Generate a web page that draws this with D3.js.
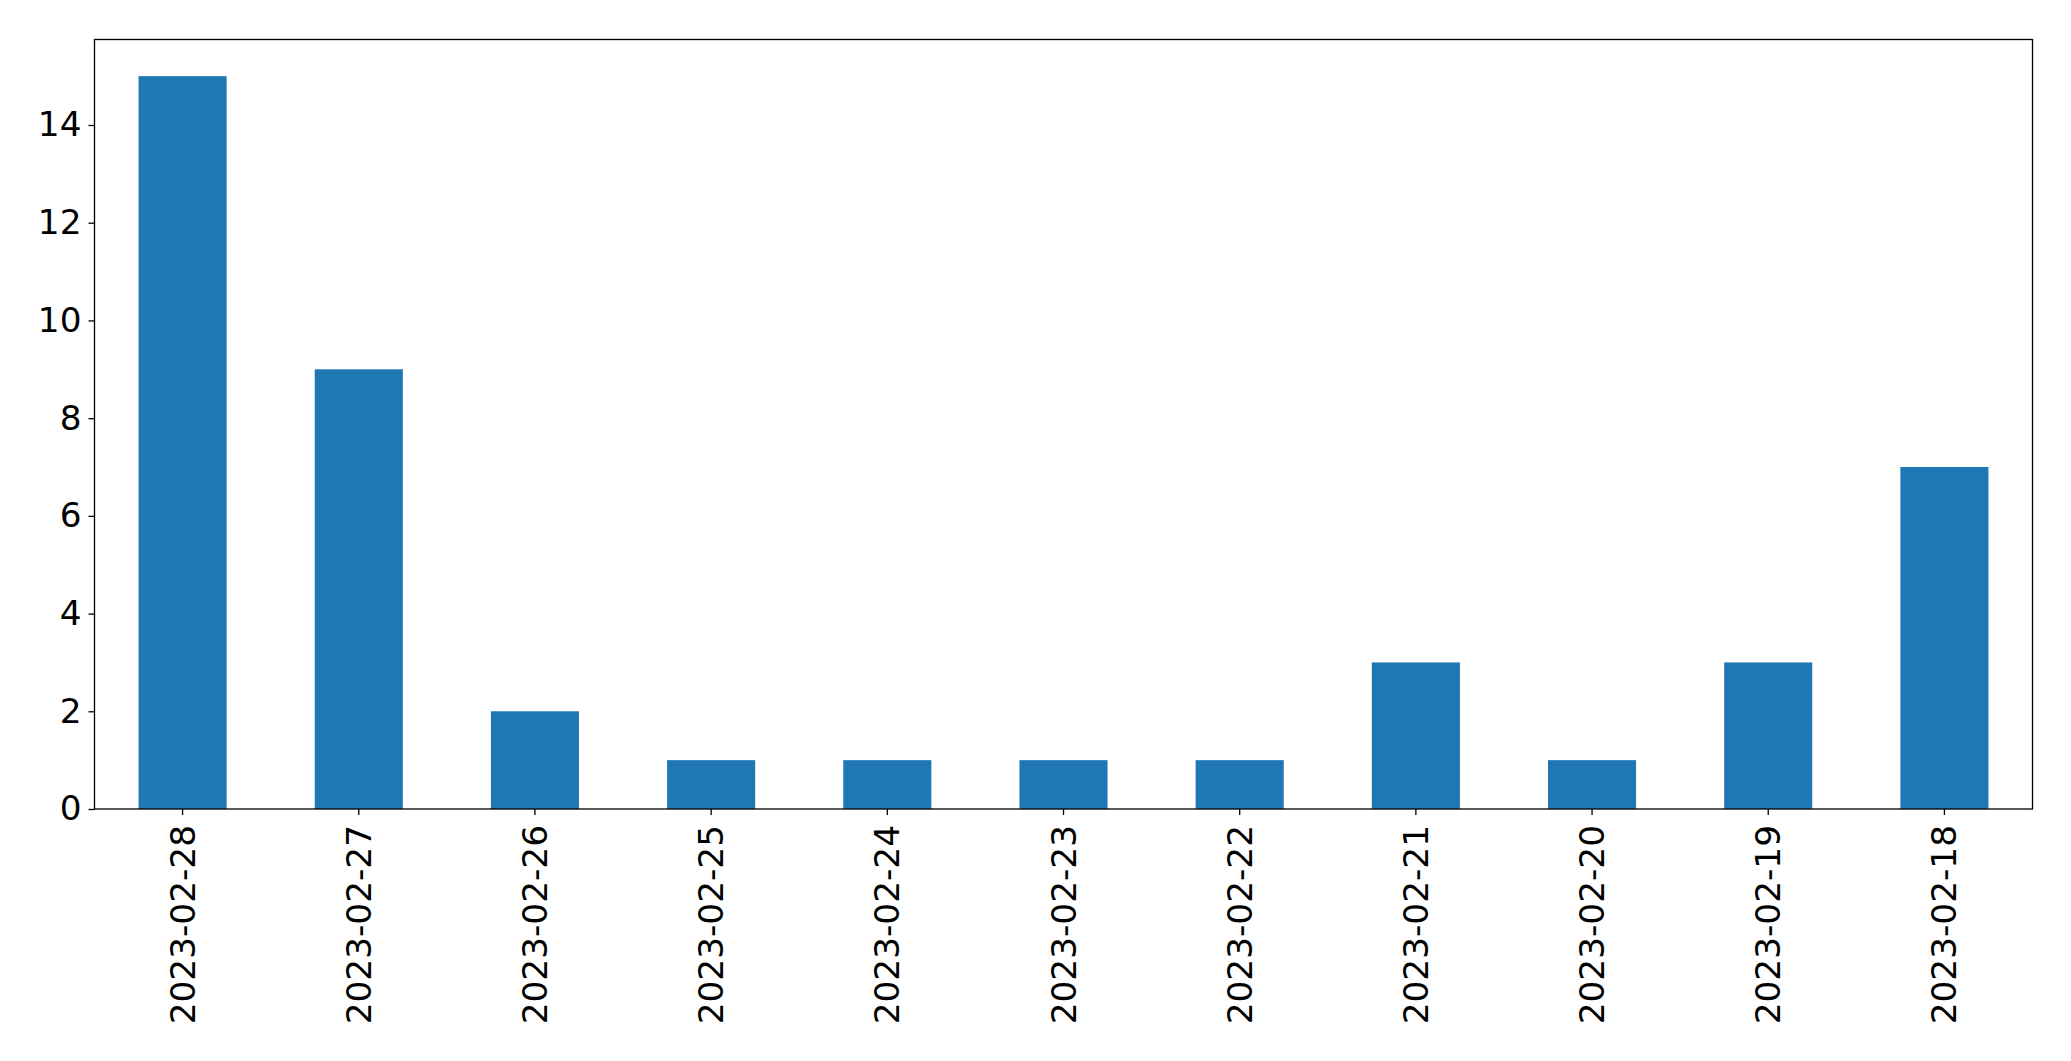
<!DOCTYPE html>
<html><head><meta charset="utf-8">
<script src="https://cdn.jsdelivr.net/npm/d3@7"></script>
<style>body{margin:0;background:#fff}svg{display:block}text{font-family:"DejaVu Sans",sans-serif}</style>
</head><body><svg id="c" width="2071" height="1061"></svg>
<script>
const categories = ["2023-02-28","2023-02-27","2023-02-26","2023-02-25","2023-02-24","2023-02-23","2023-02-22","2023-02-21","2023-02-20","2023-02-19","2023-02-18"];
const values = [15, 9, 2, 1, 1, 1, 1, 3, 1, 3, 7];
const yTicks = [0, 2, 4, 6, 8, 10, 12, 14];

const W = 2071, H = 1061;
const m = {left: 94.5, right: 2032.5, top: 39.5, bottom: 809};
const svg = d3.select("#c");
const x = d3.scaleBand().domain(categories).range([m.left, m.right]).paddingInner(0.5).paddingOuter(0.25);
const y = d3.scaleLinear().domain([0, 15 * 1.05]).range([m.bottom, m.top]);

svg.append("g").selectAll("rect").data(values).join("rect")
  .attr("x", (d, i) => x(categories[i]))
  .attr("width", x.bandwidth())
  .attr("y", d => y(d))
  .attr("height", d => y(0) - y(d))
  .attr("fill", "#1f77b4");

const fs = 34.3;
const yAxis = svg.append("g").attr("transform", `translate(${m.left},0)`)
  .call(d3.axisLeft(y).tickValues(yTicks).tickSize(6).tickPadding(7));
yAxis.select(".domain").remove();
yAxis.selectAll("text").attr("font-size", fs).attr("font-family", "DejaVu Sans").attr("fill", "#000");
yAxis.selectAll("line").attr("stroke", "#000").attr("stroke-width", 1.3);

const xAxis = svg.append("g").attr("transform", `translate(0,${m.bottom})`)
  .call(d3.axisBottom(x).tickSize(6).tickPadding(0));
xAxis.select(".domain").remove();
xAxis.selectAll("line").attr("stroke", "#000").attr("stroke-width", 1.3);
xAxis.selectAll("text")
  .attr("font-size", fs).attr("font-family", "DejaVu Sans").attr("fill", "#000")
  .attr("transform", "translate(0,16) rotate(-90)")
  .attr("x", 0).attr("y", 0).attr("dy", "0.35em")
  .attr("text-anchor", "end");

svg.append("rect").attr("x", m.left).attr("y", m.top)
  .attr("width", m.right - m.left).attr("height", m.bottom - m.top)
  .attr("fill", "none").attr("stroke", "#000").attr("stroke-width", 1.3);
</script></body></html>
